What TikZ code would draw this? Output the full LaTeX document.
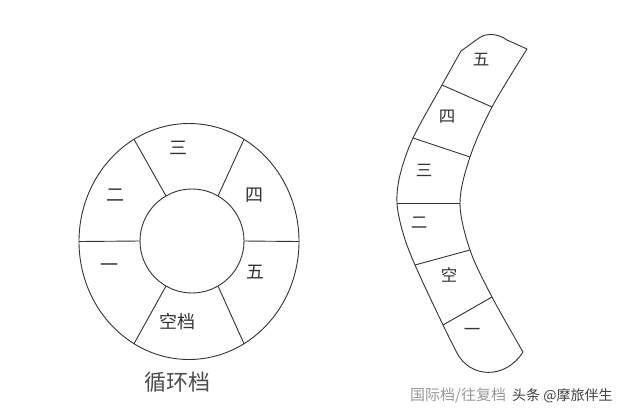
\documentclass[tikz,border=0pt]{standalone}
\usepackage{fontspec}
\newfontfamily\cjk{Noto Sans CJK SC}
\usetikzlibrary{calc}
\begin{document}
\begin{tikzpicture}[x=1pt,y=-1pt,
  edge/.style={draw=black!80,line width=0.9pt},
  lab/.style={font=\cjk\fontsize{18pt}{18pt}\selectfont,text=black!80,inner sep=0pt},
  rlab/.style={font=\cjk\fontsize{16.5pt}{16.5pt}\selectfont,text=black!80,inner sep=0pt},
  captext/.style={font=\cjk\fontsize{22pt}{22pt}\selectfont,text=black!70,inner sep=0pt},
  captextr/.style={font=\cjk\fontsize{15pt}{15pt}\selectfont,text=black!40,inner sep=0pt,anchor=west},
  wmtext/.style={font=\cjk\fontsize{14pt}{14pt}\selectfont,text=black!75,inner sep=0pt,anchor=west}]
\useasboundingbox[fill=white] (0,0) rectangle (626,416);
% ---------- circular gearbox ----------
\coordinate (oc) at (189,241.5);
\coordinate (ic) at (192,241);
\draw[edge] (oc) ellipse[x radius=110pt, y radius=118pt];
\draw[edge] (ic) circle[radius=52pt];
\foreach \a in {0,60,120,180,240,300}{
  \draw[edge] ($(ic)+(\a:52pt)$) -- ($(oc)+(\a:110pt and 118pt)$);
}
\node[lab] (c3) at (178.5,148) {三};
\node[lab] (c2) at (115.5,195.5) {二};
\node[lab] (c4) at (254.5,195) {四};
\node[lab] (c1) at (109.5,268) {一};
\node[lab] (c5) at (255,272) {五};
\node[lab] (c0) at (177,322) {空档};
\node[captext] (ccap) at (177,382) {循环档};
% ---------- international (reciprocating) gearbox ----------
\coordinate (L1) at (461,51);
\coordinate (L2) at (442,85);
\coordinate (L3) at (413,138);
\coordinate (L4) at (397,203);
\coordinate (L5) at (415,265);
\coordinate (L6) at (443,325);
\coordinate (L7) at (457,353);
\coordinate (R1) at (527,49);
\coordinate (R2) at (492,107);
\coordinate (R3) at (470,157);
\coordinate (R4) at (460,203);
\coordinate (R5) at (470,250);
\coordinate (R6) at (492,297);
\coordinate (R7) at (523,352);
\coordinate (T1) at (479,38);
\coordinate (T2) at (507,40);
\draw[edge] plot[smooth,tension=0.55] coordinates {(461,51) (442,85) (413,138) (400,175) (397,203) (403,233) (415,265) (443,325) (457,353)};
\draw[edge] plot[smooth,tension=0.55] coordinates {(527,49) (492,107) (470,157) (460,203) (470,250) (492,297) (523,352)};
\draw[edge] (L1) -- (T1) .. controls (486,33) and (497,33) .. (T2) -- (R1);
\draw[edge] (L7) .. controls (470,378) and (505,380) .. (R7);
\draw[edge] (L2) -- (R2);
\draw[edge] (L3) -- (R3);
\draw[edge] (L4) -- (R4);
\draw[edge] (L5) -- (R5);
\draw[edge] (L6) -- (R6);
\node[rlab] (r5) at (481,60) {五};
\node[rlab] (r4) at (447,117) {四};
\node[rlab] (r3) at (424,170) {三};
\node[rlab] (r2) at (419,223) {二};
\node[rlab] (r0) at (449,275) {空};
\node[rlab] (r1) at (472,332) {一};
\node[captextr] (rcap) at (410,396) {国际档/往复档};
\node[wmtext] (wm) at (512,396) {头条 @摩旅伴生};
\end{tikzpicture}
\end{document}
